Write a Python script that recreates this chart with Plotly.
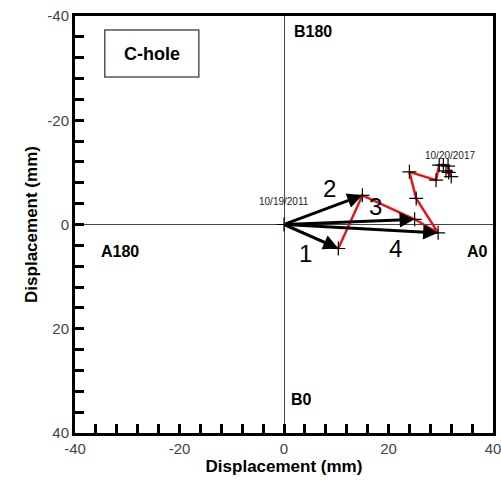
import plotly.graph_objects as go

# Displacement path (mm)
path_x = [0, 10.4, 15.0, 25.0, 29.5, 25.3, 24.0, 29.1, 29.7, 30.5, 31.4, 32.0, 31.0, 31.5]
path_y = [0, 4.6, -5.6, -1.0, 1.6, -5.0, -10.1, -8.5, -11.4, -11.4, -11.2, -9.2, -10.3, -10.0]

# Arrow end points (indices in path) and labels
arrow_idx = [1, 2, 3, 4]
arrow_labels = ["1", "2", "3", "4"]
arrow_label_x = [4.2, 8.8, 17.6, 21.3]
arrow_label_y = [5.6, -6.9, -3.4, 4.6]

dir_labels = ["A0", "A180", "B180", "B0"]
dir_x = [37.0, -31.4, 5.5, 3.4]
dir_y = [5.2, 5.2, -37.1, 33.6]

date_labels = ["10/19/2011", "10/20/2017"]
date_x = [0.0, 31.8]
date_y = [-4.4, -13.3]

tick_vals = [-40, -20, 0, 20, 40]
tick_text = ["-40", "-20", "0", "20", "40"]

FONT = "Liberation Sans, Arial"

fig = go.Figure()
fig.add_trace(go.Scatter(
    x=path_x, y=path_y, mode="lines+markers",
    line=dict(color="#e8141b", width=2.5),
    marker=dict(symbol="cross-thin", size=10, line=dict(color="black", width=1.2), color="black"),
    showlegend=False, hoverinfo="skip"))

ann = []
for i in arrow_idx:
    ann.append(dict(x=path_x[i], y=path_y[i], ax=0, ay=0, xref="x", yref="y",
                    axref="x", ayref="y", showarrow=True, arrowhead=2,
                    arrowsize=1.0, arrowwidth=3, arrowcolor="black", text="",
                    standoff=0))
for t, x, y in zip(arrow_labels, arrow_label_x, arrow_label_y):
    ann.append(dict(x=x, y=y, xref="x", yref="y", text=t, showarrow=False,
                    font=dict(size=24, color="black", family=FONT)))
for t, x, y in zip(dir_labels, dir_x, dir_y):
    ann.append(dict(x=x, y=y, xref="x", yref="y", text="<b>" + t + "</b>", showarrow=False,
                    font=dict(size=16, color="black", family=FONT)))
for t, x, y in zip(date_labels, date_x, date_y):
    ann.append(dict(x=x, y=y, xref="x", yref="y", text=t, showarrow=False,
                    font=dict(size=10, color="#222", family=FONT)))
ann.append(dict(x=-25.3, y=-32.8, xref="x", yref="y", text="<b>C-hole</b>", showarrow=False,
                font=dict(size=18, color="black", family=FONT)))

fig.add_shape(type="rect", x0=-34.3, x1=-16.3, y0=-37.3, y1=-28.3, xref="x", yref="y",
              line=dict(color="#555", width=1.5), fillcolor="white")

axis_common = dict(
    range=[-40, 40], tickvals=tick_vals, ticktext=tick_text, ticks="inside", ticklen=9,
    tickwidth=2.5, tickcolor="black", showgrid=False, zeroline=True, zerolinecolor="#444",
    zerolinewidth=1, showline=True, linecolor="black", linewidth=3, mirror=True,
    automargin=False, ticklabeloverflow="allow",
    tickfont=dict(size=15, color="#444", family=FONT),
    minor=dict(dtick=4, ticks="inside", ticklen=9, tickwidth=2.5, tickcolor="black", showgrid=False),
)

fig.update_layout(
    width=501, height=488,
    margin=dict(l=75, r=8, t=16, b=55),
    plot_bgcolor="white", paper_bgcolor="white",
    xaxis=dict(**axis_common,
               title=dict(text="<b>Displacement (mm)</b>", standoff=4,
                          font=dict(size=17, color="black", family=FONT))),
    yaxis=dict(**axis_common, autorange=False,
               title=dict(text="<b>Displacement (mm)</b>", standoff=6,
                          font=dict(size=17, color="black", family=FONT))),
    annotations=ann,
)
fig.update_yaxes(range=[40, -40])

fig.write_html("out.html", config={"displayModeBar": False},
               post_script="document.body.style.margin='0';document.body.style.overflow='hidden';")
